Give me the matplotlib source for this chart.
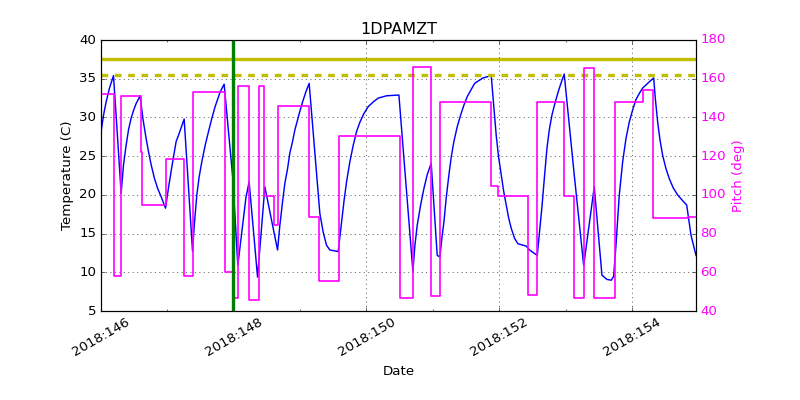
import matplotlib
matplotlib.use('Agg')
import matplotlib.pyplot as plt

plt.style.use('classic')

# temperature (1DPAMZT), day of year 2018
temp_days = [146.005, 146.041, 146.080, 146.131, 146.191, 146.248, 146.306, 146.342,
             146.381, 146.417, 146.456, 146.497, 146.532, 146.592, 146.633, 146.682,
             146.718, 146.758, 146.809, 146.858, 146.919, 146.974, 147.024, 147.069,
             147.134, 147.170, 147.255, 147.381, 147.411, 147.446, 147.480, 147.521,
             147.571, 147.622, 147.672, 147.721, 147.797, 147.857, 147.988, 148.063,
             148.184, 148.233, 148.360, 148.470, 148.661, 148.696, 148.736, 148.771,
             148.812, 148.846, 148.887, 148.922, 148.962, 148.997, 149.038, 149.087,
             149.137, 149.298, 149.348, 149.399, 149.449, 149.574, 149.625, 149.660,
             149.700, 149.750, 149.800, 149.851, 149.901, 149.961, 150.026, 150.101,
             150.176, 150.303, 150.488, 150.699, 150.729, 150.764, 150.815, 150.864,
             150.914, 150.974, 151.065, 151.105, 151.140, 151.166, 151.200, 151.241,
             151.276, 151.316, 151.366, 151.417, 151.467, 151.517, 151.628, 151.753,
             151.878, 151.919, 151.953, 151.989, 152.029, 152.065, 152.104, 152.140,
             152.179, 152.230, 152.280, 152.405, 152.456, 152.571, 152.642, 152.682,
             152.717, 152.752, 152.792, 152.842, 152.893, 152.943, 152.977, 153.123,
             153.270, 153.429, 153.545, 153.620, 153.685, 153.721, 153.756, 153.806,
             153.857, 153.907, 153.956, 154.008, 154.057, 154.107, 154.158, 154.258,
             154.324, 154.348, 154.384, 154.419, 154.459, 154.509, 154.559, 154.619,
             154.685, 154.761, 154.821, 154.886, 154.961]
temp_vals = [28.2, 30.3, 32.0, 33.8, 35.4, 28.0, 20.2, 23.9,
             26.4, 28.4, 29.9, 31.0, 31.8, 32.8, 29.9, 27.3,
             25.6, 23.9, 22.1, 20.8, 19.55, 18.3, 21.2, 23.6,
             26.9, 27.7, 29.8, 12.75, 16.5, 20.0, 22.3, 24.3,
             26.4, 28.2, 29.9, 31.4, 33.3, 34.3, 22.1, 10.9,
             19.6, 21.7, 9.4, 21.05, 12.9, 16.1, 19.1, 21.5,
             23.4, 25.4, 26.9, 28.4, 29.7, 30.8, 32.0, 33.3,
             34.4, 17.6, 15.2, 13.5, 12.9, 12.7, 16.5, 19.1,
             21.7, 24.3, 26.4, 28.2, 29.4, 30.5, 31.4, 32.0,
             32.5, 32.8, 32.9, 10.1, 13.5, 16.1, 18.7, 20.8,
             22.6, 24.1, 12.2, 12.0, 14.8, 16.5, 19.6, 22.6,
             24.9, 26.9, 28.8, 30.3, 31.6, 32.7, 34.4, 35.1,
             35.4, 31.2, 27.7, 24.9, 22.6, 20.5, 18.7, 17.05,
             15.7, 14.4, 13.7, 13.4, 12.9, 12.2, 18.5, 22.6,
             26.0, 28.4, 30.3, 32.0, 33.5, 34.8, 35.6, 23.0,
             10.9, 21.05, 9.65, 9.1, 9.0, 9.5, 13.5, 20.0,
             24.3, 27.3, 29.4, 31.0, 32.3, 33.1, 33.8, 34.6,
             35.1, 32.5, 29.4, 27.1, 25.1, 23.4, 22.1, 20.9,
             20.0, 19.25, 18.7, 14.8, 12.2]

# pitch, step changes
pitch_days = [146.0, 146.206, 146.297, 146.598, 146.622, 146.983, 147.255, 147.381,
              147.863, 147.983, 148.059, 148.224, 148.384, 148.459, 148.601, 148.661,
              149.137, 149.288, 149.589, 150.498, 150.699, 150.965, 151.101, 151.878,
              151.979, 152.431, 152.571, 152.977, 153.119, 153.270, 153.429, 153.736,
              154.158, 154.309, 154.840, 154.961]
pitch_vals = [152, 58, 151, 122, 95, 118.5, 58, 153,
              60, 47, 156, 46, 156, 99.6, 84.4, 146,
              88.7, 55.7, 130.6, 46.6, 165.9, 47.8, 148, 104.7,
              99.4, 48.6, 148, 99.6, 46.6, 165.7, 46.6, 148,
              154, 87.9, 88.7, 88.7]

planning_limit = 37.5
caution_limit = 35.5
now_day = 147.99

day_ticks = [146, 148, 150, 152, 154]
day_labels = ['2018:%03d' % d for d in day_ticks]

fig = plt.figure(figsize=(10, 5), dpi=80, facecolor='white')
fig.subplots_adjust(left=0.126, right=0.87, top=0.9, bottom=0.222)
ax = fig.add_subplot(111)

ax.plot(temp_days, temp_vals, color='b', lw=1.3)
ax.axhline(planning_limit, color='y', lw=3)
ax.axhline(caution_limit, color='y', lw=3, ls='--')
ax.grid(True)
ax.set_xlim(146, 154.961)
ax.set_ylim(5, 40)
ax.set_xticks(day_ticks)
ax.set_xticks([147, 149, 151, 153], minor=True)
ax.set_xticklabels(day_labels, rotation=30)
ax.set_xlabel('Date')
ax.set_ylabel('Temperature (C)')
ax.set_title('1DPAMZT')

ax2 = ax.twinx()
ax2.step(pitch_days, pitch_vals, where='post', color='magenta', lw=1.5)
ax2.axvline(now_day, color='g', lw=3)
ax2.set_xlim(146, 154.961)
ax2.set_ylim(40, 180)
ax2.set_ylabel('Pitch (deg)', color='magenta')
ax2.tick_params(axis='y', labelcolor='magenta')

fig.savefig('out.png', dpi=80, facecolor='white')
